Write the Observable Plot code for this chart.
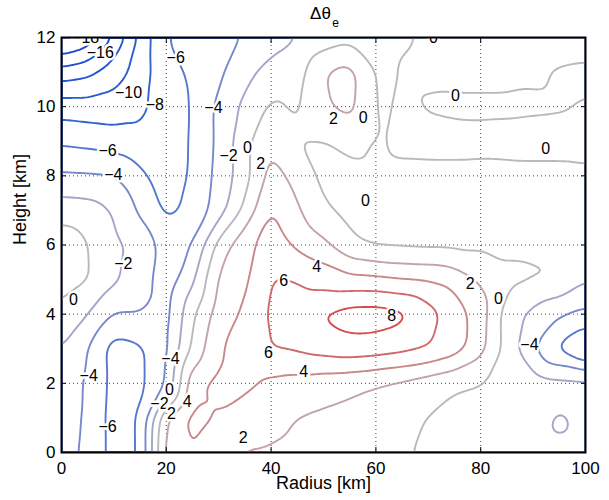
<!DOCTYPE html>
<html>
<head>
<meta charset="utf-8">
<script src="https://cdn.jsdelivr.net/npm/d3@7"></script>
<script src="https://cdn.jsdelivr.net/npm/@observablehq/plot@0.6"></script>
<style>
  html, body { margin: 0; padding: 0; background: white; }
</style>
</head>
<body>
<div id="chart"></div>
<script>
// Grid coordinates (km)
const radius = [0, 5, 10, 15, 20, 25, 30, 35, 40, 45, 50, 55, 60, 65, 70, 75, 80, 85, 90, 95, 100];
const heights = [0, 1, 2, 3, 4, 5, 6, 7, 8, 9, 10, 11, 12];

// Δθe estimated on the grid, one row per height (0 km .. 12 km)
const h0  = [-3.3, -4.4, -6.8, -6.2, 3.0, 4.2, 2.3, 1.8, 1.8, 1.6, 1.4, 1.1, 0.7, 0.2, -0.3, -0.8, -1.2, -1.5, -1.6, -1.7, -1.6];
const h1  = [-3.0, -4.3, -6.9, -6.1, 2.2, 4.8, 3.9, 3.0, 2.5, 1.95, 1.7, 1.4, 0.9, 0.45, -0.05, -0.7, -1.0, -1.2, -1.4, -2.3, -1.6];
const h2  = [-2.6, -4.3, -6.7, -6.5, -4.2, 3.6, 4.6, 4.5, 3.6, 3.2, 2.8, 2.5, 2.1, 1.6, 0.9, 0.3, 0.05, -0.6, -1.0, -1.3, -1.4];
const h3  = [-1.9, -3.95, -7.0, -6.4, -4.6, 0.5, 3.8, 5.2, 6.1, 6.3, 6.8, 7.2, 7.0, 6.6, 6.1, 5.0, 2.8, -0.8, -3.9, -6.5, -9.0];
const h4  = [-0.3, -1.9, -4.2, -4.1, -4.9, -0.3, 3.0, 4.3, 6.4, 7.2, 8.2, 9.0, 9.1, 8.6, 6.8, 5.0, 3.0, -1.0, -2.6, -3.8, -4.5];
const h5  = [0.9, 0.2, -1.7, -3.0, -5.2, -2.5, 2.4, 3.6, 6.1, 5.9, 5.2, 4.6, 4.5, 4.1, 3.9, 3.3, 1.7, 0.25, 0.15, 0.05, -1.9];
const h6  = [1.3, 0.1, -1.6, -2.4, -5.0, -4.1, 0.8, 3.3, 5.1, 3.6, 2.6, 0.3, -0.3, -0.4, -0.5, -0.5, -0.3, -0.2, -0.2, -0.3, -0.6];
const h7  = [-0.9, -1.1, -2.15, -4.3, -6.5, -5.5, -3.0, 0.5, 4.3, 2.3, 0.2, -0.3, -0.5, -0.6, -0.6, -0.6, -0.6, -0.6, -0.6, -0.6, -0.5];
const h8  = [-3.7, -3.8, -3.95, -5.4, -7.3, -5.7, -3.4, -0.8, 2.9, 1.2, -0.5, -0.5, -0.3, -0.3, -0.3, -0.3, -0.3, -0.3, -0.3, -0.3, -0.2];
const h9  = [-6.3, -6.6, -7.0, -7.6, -7.2, -5.8, -3.6, -0.6, 1.7, -0.1, -0.1, 0.5, -0.2, 0.3, 0.35, 0.35, 0.3, 0.35, 0.4, 0.4, 0.4];
const h10 = [-9.0, -9.2, -9.3, -8.6, -6.8, -5.95, -3.5, -1.5, 0.4, -0.4, 1.7, 2.7, -0.3, 0.2, -0.1, -0.2, -0.2, -0.2, -0.15, -0.1, 0.1];
const h11 = [-13.2, -12.6, -11.0, -9.2, -6.4, -5.8, -4.4, -2.6, -1.2, -0.9, 2.0, 2.9, -0.4, 0.1, 0.2, 0.3, 0.3, 0.3, 0.15, -0.1, -0.2];
const h12 = [-19, -17.5, -14, -9.5, -5.9, -5.4, -4.6, -3.9, -3.0, -2.1, -1.2, -0.6, -0.3, -0.1, 0.1, 0.3, 0.4, 0.45, 0.5, 0.5, 0.5];

// Contour levels and their colours
const levels = [-18, -16, -14, -12, -10, -8, -6, -4, -2, 0, 2, 4, 6, 8];
const levelColors = ["#1a3fd0", "#1d46d0", "#2050d2", "#2356d2", "#275cd2", "#3563d0", "#5577cc",
                     "#7689cc", "#a2a6c8", "#b9b9bd", "#c3a3a5", "#c98789", "#cf6a6a", "#d64b4b"];

// Axis ticks
const xTicks = [0, 20, 40, 60, 80, 100];
const yTicks = [0, 2, 4, 6, 8, 10, 12];
const xGrid = [20, 40, 60, 80];
const yGrid = [2, 4, 6, 8, 10];

// Contour labels (text, radius km, height km)
const labelText   = ["−18", "−16", "−10", "−8", "−6", "−4", "−6", "−4", "−2", "0", "2", "2", "0", "0", "0", "0", "0",
                     "−2", "0", "6", "4", "8", "2", "0", "−4", "6", "4", "−4", "−4", "0", "−2", "2", "4", "−6", "2"];
const labelRadius = [4.6, 7.4, 12.8, 17.8, 21.8, 29.0, 8.8, 9.9, 31.9, 35.5, 38.0, 51.9, 57.6, 71.0, 75.2, 92.4, 58.0,
                     11.8, 2.3, 42.4, 48.7, 63.0, 78.0, 83.4, 89.3, 39.5, 46.2, 5.2, 20.8, 20.6, 18.7, 21.0, 24.0, 8.8, 34.7];
const labelHeight = [12.0, 11.56, 10.4, 10.06, 11.4, 9.97, 8.73, 8.03, 8.58, 8.8, 8.35, 9.65, 9.68, 12.0, 10.3, 8.79, 7.28,
                     5.46, 4.4, 4.97, 5.38, 3.96, 4.88, 4.45, 3.1, 2.89, 2.34, 2.23, 2.7, 1.8, 1.42, 1.12, 1.45, 0.73, 0.43];

// Tabular grid points built from the rows above
const rows = [h0, h1, h2, h3, h4, h5, h6, h7, h8, h9, h10, h11, h12];
const points = rows.flatMap((row, j) => row.map((v, i) => ({r: radius[i], h: heights[j], v})));
const labels = labelText.map((t, i) => ({t, r: labelRadius[i], h: labelHeight[i]}));

const font = "'Liberation Sans', Arial, Helvetica, sans-serif";

const chart = Plot.plot({
  width: 609,
  height: 500,
  marginTop: 37,
  marginRight: 24,
  marginBottom: 48,
  marginLeft: 61,
  style: {fontFamily: font, fontSize: "17px", color: "black", background: "white", overflow: "visible"},
  x: {domain: [0, 100], label: null},
  y: {domain: [0, 12], label: null},
  color: {type: "ordinal", domain: levels, range: levelColors},
  marks: [
    Plot.gridX(xGrid, {stroke: "#222", strokeOpacity: 0.85, strokeDasharray: "1,3", strokeWidth: 1}),
    Plot.gridY(yGrid, {stroke: "#222", strokeOpacity: 0.85, strokeDasharray: "1,3", strokeWidth: 1}),
    Plot.contour(points, {
      x: "r", y: "h", value: "v",
      interpolate: "barycentric",
      pixelSize: 2,
      blur: 3,
      thresholds: levels,
      stroke: "value",
      strokeWidth: 1.9,
      strokeLinejoin: "round",
      clip: true
    }),
    Plot.text(labels, {
      x: "r", y: "h", text: "t",
      fill: "black", stroke: "white", strokeWidth: 5,
      fontSize: 16, clip: true
    }),
    Plot.frame({stroke: "black", strokeWidth: 2}),
    Plot.axisX({ticks: xTicks, tickSize: -5, tickPadding: 14, fontSize: 17, label: null}),
    Plot.axisX({ticks: xTicks, anchor: "top", tickSize: -5, tickFormat: () => "", label: null}),
    Plot.axisY({ticks: yTicks, tickSize: -5, tickPadding: 11, fontSize: 17, label: null}),
    Plot.axisY({ticks: yTicks, anchor: "right", tickSize: -5, tickFormat: () => "", label: null}),
    Plot.text(["Radius [km]"], {frameAnchor: "bottom", dy: 31, lineAnchor: "middle", fontSize: 18}),
    Plot.text(["Height [km]"], {frameAnchor: "left", dx: -41, rotate: -90, lineAnchor: "middle", fontSize: 18}),
    Plot.text(["Δθ"], {frameAnchor: "top", dx: -3, dy: -24, lineAnchor: "middle", fontSize: 17}),
    Plot.text(["e"], {frameAnchor: "top", dx: 12, dy: -14, lineAnchor: "middle", fontSize: 12})
  ]
});

document.getElementById("chart").appendChild(chart);
</script>
</body>
</html>
